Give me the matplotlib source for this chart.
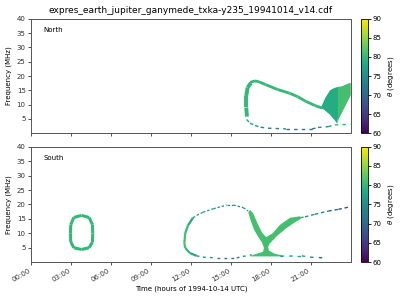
import numpy as np
import matplotlib
matplotlib.use("Agg")
import matplotlib.pyplot as plt
from matplotlib.collections import LineCollection
from matplotlib.colors import Normalize
from matplotlib.cm import ScalarMappable

TITLE = "expres_earth_jupiter_ganymede_txka-y235_19941014_v14.cdf"
hour_ticks = [0, 3, 6, 9, 12, 15, 18, 21]
hour_labels = ["00:00", "03:00", "06:00", "09:00", "12:00", "15:00", "18:00", "21:00"]
freq_ticks = [5, 10, 15, 20, 25, 30, 35, 40]
theta_ticks = [60, 65, 70, 75, 80, 85, 90]

# ---- North hemisphere features (time in hours, frequency in MHz, theta in degrees) ----
n_arm_t = [16.20, 16.15, 16.15, 16.25, 16.50]
n_arm_f = [5.8, 9.0, 13.0, 16.0, 17.6]
n_arm_theta = 80

n_arc_t = [16.45, 16.80, 17.10, 17.60, 18.50, 19.40, 20.00, 20.60, 21.30, 21.85]
n_arc_f = [17.8, 18.3, 18.0, 17.0, 15.3, 14.0, 12.8, 11.2, 9.7, 8.8]
n_arc_theta = 80

n_low_t = [16.18, 16.43, 16.81, 17.23, 17.78, 19.13, 21.09, 21.54, 22.30, 22.80, 23.97]
n_low_f = [4.8, 3.5, 2.7, 2.1, 1.75, 1.5, 1.5, 2.0, 2.3, 2.9, 3.1]
n_low_theta = [78, 77, 76, 74, 73, 72, 72, 74, 77, 80, 80]

n_wedge_a_t = [21.80, 22.10, 22.44, 22.75, 23.04, 23.04, 22.98, 22.83, 22.45, 22.00, 21.72]
n_wedge_a_f = [9.4, 12.5, 15.0, 15.8, 16.2, 5.6, 3.3, 4.3, 6.4, 8.2, 8.8]
n_wedge_a_theta = 78.5

n_wedge_b_t = [23.04, 23.32, 23.57, 23.82, 24.00, 24.00, 23.32, 23.10, 22.98, 23.04]
n_wedge_b_f = [16.2, 16.4, 16.9, 17.4, 17.6, 13.3, 7.0, 5.0, 3.3, 5.6]
n_wedge_b_theta = 81

# ---- South hemisphere features ----
s_oval_t = [3.78, 4.35, 4.60, 4.62, 4.60, 4.35, 3.78, 3.20, 2.97, 2.95, 2.97, 3.20, 3.78]
s_oval_f = [16.2, 15.5, 13.0, 10.0, 7.0, 5.0, 4.4, 5.0, 7.0, 10.0, 13.0, 15.5, 16.2]
s_oval_theta = 80

s_arm_t = [12.15, 11.77, 11.57, 11.50, 11.57, 11.92, 12.43]
s_arm_f = [15.4, 12.7, 10.1, 6.6, 4.9, 3.15, 2.2]
s_arm_theta = [78, 80, 81, 81, 80, 78, 76]

s_top_t = [12.15, 12.43, 12.90, 13.67, 14.68, 15.18, 15.93, 16.30]
s_top_f = [15.4, 16.2, 17.3, 18.5, 19.8, 19.8, 18.9, 17.7]
s_top_theta = [77, 76, 75, 74, 74, 74, 75, 76]

s_bottom_t = [12.43, 12.90, 13.93, 15.43, 15.90, 16.56]
s_bottom_f = [2.2, 1.75, 1.5, 1.5, 2.0, 2.55]
s_bottom_theta = [76, 75, 72, 72, 75, 77]

s_v_t = [16.30, 16.50, 16.73, 17.03, 17.33, 17.48, 17.41, 16.66, 16.43, 17.56, 18.70,
         19.06, 18.30, 17.86, 17.79, 17.90, 18.44, 19.19, 19.94, 20.26, 20.19, 19.44,
         18.70, 18.10, 17.64, 17.33, 16.99, 16.66, 16.43]
s_v_f = [17.2, 14.2, 11.3, 8.9, 6.8, 5.0, 3.6, 2.55, 2.0, 2.0, 2.0,
         2.2, 2.9, 4.0, 5.2, 6.4, 9.0, 11.9, 14.2, 15.0, 15.9, 15.4,
         13.0, 9.9, 8.7, 10.3, 13.5, 17.0, 18.1]
s_v_theta = 81

s_tail_t = [20.20, 20.56, 21.30, 22.31, 23.07, 23.95]
s_tail_f = [15.4, 15.7, 16.6, 17.7, 18.3, 19.2]
s_tail_theta = [79, 76, 74, 70, 67, 64]

s_foot_t = [18.70, 19.94, 20.32, 20.94, 21.60, 22.22]
s_foot_f = [2.0, 2.2, 2.2, 1.75, 1.6, 1.4]
s_foot_theta = [77, 78, 76, 74, 70, 65]

cmap = plt.get_cmap("viridis")
norm = Normalize(vmin=60, vmax=90)


def draw_line(ax, t, f, theta, lw, dashes=None):
    pts = np.column_stack([t, f])
    segs = np.stack([pts[:-1], pts[1:]], axis=1)
    th = np.broadcast_to(np.asarray(theta, float), (len(t),))
    lc = LineCollection(segs, cmap=cmap, norm=norm, linewidths=lw, capstyle="butt")
    lc.set_array(th[:-1])
    if dashes:
        lc.set_linestyle((0, dashes))
    ax.add_collection(lc)


def draw_patch(ax, t, f, theta):
    ax.fill(t, f, color=cmap(norm(theta)), lw=0)


fig = plt.figure(figsize=(4, 3), dpi=100)
ax_n = fig.add_axes([0.078, 0.556, 0.799, 0.381])
ax_s = fig.add_axes([0.078, 0.126, 0.799, 0.385])
cax_n = fig.add_axes([0.902, 0.556, 0.017, 0.381])
cax_s = fig.add_axes([0.902, 0.126, 0.017, 0.385])

# north
draw_line(ax_n, n_arm_t, n_arm_f, n_arm_theta, 2.8)
draw_line(ax_n, n_arc_t, n_arc_f, n_arc_theta, 2.0)
draw_line(ax_n, n_low_t, n_low_f, n_low_theta, 1.0, dashes=(2.5, 3))
draw_patch(ax_n, n_wedge_a_t, n_wedge_a_f, n_wedge_a_theta)
draw_patch(ax_n, n_wedge_b_t, n_wedge_b_f, n_wedge_b_theta)

# south
draw_line(ax_s, s_oval_t, s_oval_f, s_oval_theta, 2.2)
draw_line(ax_s, s_arm_t, s_arm_f, s_arm_theta, 1.6)
draw_line(ax_s, s_top_t, s_top_f, s_top_theta, 0.9, dashes=(2, 1.5))
draw_line(ax_s, s_bottom_t, s_bottom_f, s_bottom_theta, 1.0, dashes=(2, 3))
draw_patch(ax_s, s_v_t, s_v_f, s_v_theta)
draw_line(ax_s, s_tail_t, s_tail_f, s_tail_theta, 1.0, dashes=(2.5, 2))
draw_line(ax_s, s_foot_t, s_foot_f, s_foot_theta, 1.0, dashes=(2.5, 4))

for ax, name in [(ax_n, "North"), (ax_s, "South")]:
    ax.set_xlim(0, 24)
    ax.set_ylim(0, 40)
    ax.set_yticks(freq_ticks)
    ax.set_xticks(hour_ticks)
    ax.tick_params(labelsize=5, length=2.5, width=0.6, pad=1.5, colors="#333333")
    ax.set_ylabel("Frequency (MHz)", fontsize=5, labelpad=3)
    ax.text(0.037, 0.9, name, transform=ax.transAxes, fontsize=5, va="center")
    for sp in ax.spines.values():
        sp.set_linewidth(0.7)
        sp.set_color("#555555")

ax_n.set_xticklabels([])
ax_s.set_xticklabels(hour_labels, rotation=30, ha="right")
ax_s.set_xlabel("Time (hours of 1994-10-14 UTC)", fontsize=5, labelpad=2)
ax_n.set_title(TITLE, fontsize=6.5, pad=4)

sm = ScalarMappable(norm=norm, cmap=cmap)
for cax in (cax_n, cax_s):
    cb = fig.colorbar(sm, cax=cax, ticks=theta_ticks)
    cb.ax.tick_params(labelsize=5, length=2, width=0.6, pad=1.5)
    cb.outline.set_linewidth(0.6)
    cb.set_label(r"$\theta$ (degrees)", fontsize=5, labelpad=3)

fig.savefig("out.png", dpi=100)
